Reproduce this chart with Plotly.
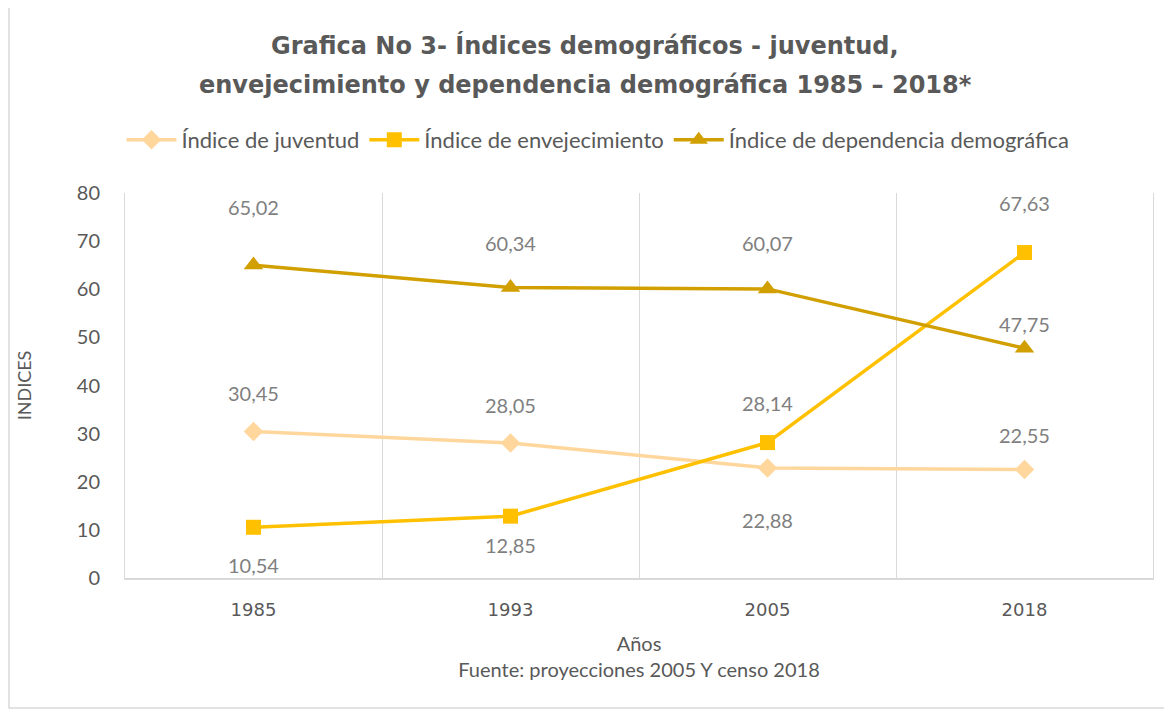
import plotly.graph_objects as go

# ---- data ----
years = ["1985", "1993", "2005", "2018"]
juventud = [30.45, 28.05, 22.88, 22.55]
envejecimiento = [10.54, 12.85, 28.14, 67.63]
dependencia = [65.02, 60.34, 60.07, 47.75]
series_names = ["Índice de juventud", "Índice de envejecimiento", "Índice de dependencia demográfica"]
y_ticks = [0, 10, 20, 30, 40, 50, 60, 70, 80]

title_line1 = "Grafica No 3- Índices demográficos - juventud,"
title_line2 = "envejecimiento y dependencia demográfica 1985 – 2018*"

# ---- styles ----
colors = ["#FFD79C", "#FFC000", "#D19F00"]
symbols = ["diamond", "square", "triangle-up"]
msizes = [15, 15, 17]
# label vertical offsets (px) for data labels
label_offsets = [
    [38, 38, -52, 34],
    [-38, -29, 40, 50],
    [58, 45, 46, 24],
]

OFF = 8  # page body margin
L, R, T, B = 117, 27, 185, 143
W, H = 1172, 713
PW, PH = W - L - R, H - T - B

fig = go.Figure()
all_series = [juventud, envejecimiento, dependencia]
for name, vals, c, s, ms in zip(series_names, all_series, colors, symbols, msizes):
    fig.add_trace(go.Scatter(
        x=years, y=vals, name=name, mode="lines+markers",
        line=dict(color=c, width=3.5),
        marker=dict(symbol=s, size=ms, color=c, line=dict(width=0)),
    ))

for vals, offs in zip(all_series, label_offsets):
    for i, (v, o) in enumerate(zip(vals, offs)):
        fig.add_annotation(
            x=i, y=v, text=f"{v:.2f}".replace(".", ","), showarrow=False,
            yshift=o, xref="x", yref="y",
            font=dict(family="Lato", size=20, color="#7F7F7F"),
        )

# outer border (page coords -> paper)
def px_x(p):
    return (p - OFF - L) / PW

def px_y(p):
    return (H - B - (p - OFF)) / PH

fig.add_shape(type="rect", xref="paper", yref="paper",
              x0=px_x(9), x1=px_x(1190), y0=px_y(708), y1=px_y(7),
              line=dict(color="#D9D9D9", width=1.5), fillcolor="rgba(0,0,0,0)", layer="below")

title_font = dict(family="DejaVu Sans", size=24, color="#595959", weight="bold")
for txt, ypix in [(title_line1, 45), (title_line2, 85)]:
    fig.add_annotation(text=txt, xref="paper", yref="paper", x=px_x(585), y=px_y(ypix),
                       xanchor="center", yanchor="middle", showarrow=False, font=title_font)

fig.update_layout(
    width=W, height=H,
    margin=dict(l=L, r=R, t=T, b=B),
    paper_bgcolor="white", plot_bgcolor="white",
    legend=dict(orientation="h", x=px_x(598), xanchor="center", y=px_y(140), yanchor="middle",
                font=dict(family="Lato", size=22, color="#595959"),
                itemwidth=50, traceorder="normal"),
    xaxis=dict(type="category", tickson="boundaries", showgrid=True, gridcolor="#D9D9D9",
               gridwidth=1, showline=True, linecolor="#D9D9D9", linewidth=2,
               ticks="", ticklabelstandoff=14,
               tickfont=dict(family="DejaVu Sans", size=18, color="#595959"),
               title=dict(text="Años<br>Fuente: proyecciones 2005 Y censo 2018",
                          font=dict(family="Lato", size=20, color="#595959"), standoff=18),
               range=[-0.5, 3.5]),
    yaxis=dict(range=[0, 80], tickvals=y_ticks, showgrid=False, zeroline=False,
               showline=True, linecolor="#D9D9D9", linewidth=1, mirror=True,
               ticks="", ticklabelstandoff=20,
               tickfont=dict(family="Lato", size=20, color="#595959"),
               title=dict(text="INDICES", font=dict(family="Lato", size=18, color="#595959"),
                          standoff=40)),
)

fig.write_html("out.html")
